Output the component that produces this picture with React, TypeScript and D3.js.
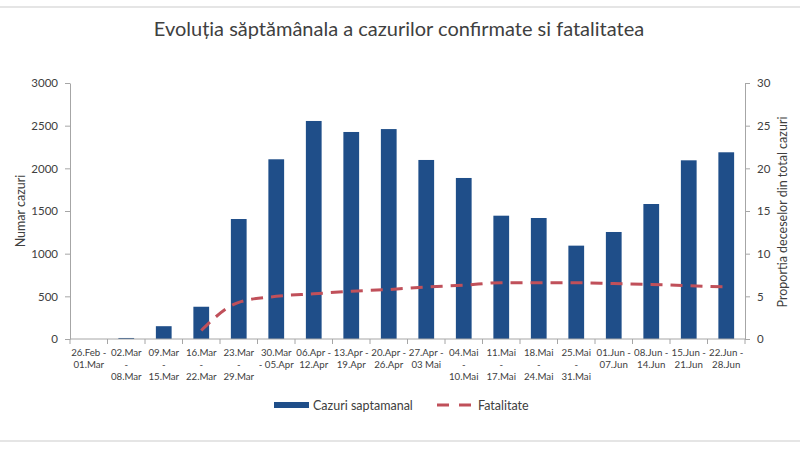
import React, { useEffect, useRef } from 'react';
import * as d3 from 'd3';

const weeks = [
  ['26.Feb -', '01.Mar'],
  ['02.Mar', '-', '08.Mar'],
  ['09.Mar', '-', '15.Mar'],
  ['16.Mar', '-', '22.Mar'],
  ['23.Mar', '-', '29.Mar'],
  ['30.Mar', '- 05.Apr'],
  ['06.Apr -', '12.Apr'],
  ['13.Apr -', '19.Apr'],
  ['20.Apr -', '26.Apr'],
  ['27.Apr -', '03 Mai'],
  ['04.Mai', '-', '10.Mai'],
  ['11.Mai', '-', '17.Mai'],
  ['18.Mai', '-', '24.Mai'],
  ['25.Mai', '-', '31.Mai'],
  ['01.Jun -', '07.Jun'],
  ['08.Jun -', '14.Jun'],
  ['15.Jun -', '21.Jun'],
  ['22.Jun -', '28.Jun'],
];
const categories = weeks.map(w => w.join(' '));

const cazuri = [0, 12, 150, 378, 1406, 2106, 2555, 2426, 2460, 2098, 1887, 1445, 1418, 1094, 1254, 1582, 2094, 2188];
const fatalitate: (number | null)[] = [null, null, null, 1.0, 4.3, 5.0, 5.3, 5.6, 5.8, 6.1, 6.3, 6.6, 6.6, 6.6, 6.5, 6.4, 6.25, 6.1];

const leftTicks = [0, 500, 1000, 1500, 2000, 2500, 3000];
const rightTicks = [0, 5, 10, 15, 20, 25, 30];

const FONT = 'Lato, sans-serif';
const BAR = '#1f4e89';
const LINE = '#c0505a';
const AXIS = '#a6a6a6';
const TEXT = '#404040';

const App: React.FC = () => {
  const svgRef = useRef<SVGSVGElement>(null);

  useEffect(() => {
    const svg = d3.select(svgRef.current);
    svg.selectAll('*').remove();

    const left = 70, right = 745, top = 83, bottom = 339;

    const x = d3.scaleBand()
      .domain(categories)
      .range([left, right])
      .paddingInner(0.58)
      .paddingOuter(0.29);

    const y = d3.scaleLinear().domain([0, 3000]).range([bottom, top]);
    const y2 = d3.scaleLinear().domain([0, 30]).range([bottom, top]);

    // frame lines
    svg.append('line').attr('x1', 0).attr('x2', 800).attr('y1', 7).attr('y2', 7)
      .attr('stroke', '#dcdcdc').attr('stroke-width', 1.5);
    svg.append('line').attr('x1', 0).attr('x2', 800).attr('y1', 441).attr('y2', 441)
      .attr('stroke', '#dcdcdc').attr('stroke-width', 1.5);

    svg.append('text')
      .attr('x', 399).attr('y', 36)
      .attr('text-anchor', 'middle')
      .attr('font-family', FONT).attr('font-size', 20)
      .attr('fill', TEXT)
      .text('Evoluția săptămânala a cazurilor confirmate si fatalitatea');

    // bars
    svg.selectAll('.bar')
      .data(cazuri)
      .enter()
      .append('rect')
      .attr('class', 'bar')
      .attr('x', (_d, i) => x(categories[i]) || 0)
      .attr('y', d => y(d))
      .attr('width', x.bandwidth())
      .attr('height', d => bottom - y(d))
      .attr('fill', BAR);

    // y axes
    const gl = svg.append('g')
      .attr('transform', `translate(${left},0)`)
      .call(d3.axisLeft(y).tickValues(leftTicks).tickFormat(d3.format('d')).tickSize(5).tickSizeOuter(0).tickPadding(7));
    const gr = svg.append('g')
      .attr('transform', `translate(${right},0)`)
      .call(d3.axisRight(y2).tickValues(rightTicks).tickFormat(d3.format('d')).tickSize(5).tickSizeOuter(0).tickPadding(7));
    [gl, gr].forEach(g => {
      g.select('.domain').attr('stroke', AXIS);
      g.selectAll('.tick line').attr('stroke', AXIS);
      g.selectAll('.tick text')
        .attr('font-family', FONT).attr('font-size', 11.5).attr('fill', TEXT);
    });

    // x axis
    const step = x.step();
    svg.append('line')
      .attr('x1', left).attr('x2', right).attr('y1', bottom).attr('y2', bottom)
      .attr('stroke', AXIS);
    svg.selectAll('.xtick')
      .data(d3.range(categories.length + 1))
      .enter()
      .append('line')
      .attr('x1', i => left + i * step).attr('x2', i => left + i * step)
      .attr('y1', bottom).attr('y2', bottom + 5)
      .attr('stroke', AXIS);

    const xl = svg.selectAll('.xlabel')
      .data(weeks)
      .enter()
      .append('text')
      .attr('text-anchor', 'middle')
      .attr('font-family', FONT).attr('font-size', 9.7)
      .attr('fill', TEXT);
    xl.each(function (d, i) {
      const cx = (x(categories[i]) || 0) + x.bandwidth() / 2;
      d3.select(this).selectAll('tspan')
        .data(d)
        .enter()
        .append('tspan')
        .attr('x', cx)
        .attr('y', (_t, j) => 356 + j * 12)
        .text(t => t);
    });

    // fatality line
    const pts = fatalitate
      .map((v, i) => ({ v, i }))
      .filter(p => p.v !== null) as { v: number; i: number }[];
    const line = d3.line<{ v: number; i: number }>()
      .x(p => (x(categories[p.i]) || 0) + x.bandwidth() / 2)
      .y(p => y2(p.v))
      .curve(d3.curveMonotoneX);
    svg.append('path')
      .datum(pts)
      .attr('d', line)
      .attr('fill', 'none')
      .attr('stroke', LINE)
      .attr('stroke-width', 3)
      .attr('stroke-dasharray', '12 8');

    // axis titles
    svg.append('text')
      .attr('transform', 'translate(25,211) rotate(-90)')
      .attr('text-anchor', 'middle')
      .attr('font-family', FONT).attr('font-size', 12.5)
      .attr('fill', TEXT)
      .text('Numar cazuri');
    svg.append('text')
      .attr('transform', 'translate(787,212) rotate(-90)')
      .attr('text-anchor', 'middle')
      .attr('font-family', FONT).attr('font-size', 12.5)
      .attr('fill', TEXT)
      .text('Proportia deceselor din total cazuri');

    // legend
    const ly = 405;
    svg.append('rect').attr('x', 274).attr('y', ly - 3).attr('width', 35).attr('height', 6).attr('fill', BAR);
    svg.append('text').attr('x', 313).attr('y', ly + 4.5)
      .attr('font-family', FONT).attr('font-size', 12.5).attr('fill', TEXT)
      .text('Cazuri saptamanal');
    svg.append('line').attr('x1', 437).attr('x2', 471).attr('y1', ly).attr('y2', ly)
      .attr('stroke', LINE).attr('stroke-width', 3).attr('stroke-dasharray', '12 10');
    svg.append('text').attr('x', 478).attr('y', ly + 4.5)
      .attr('font-family', FONT).attr('font-size', 12.5).attr('fill', TEXT)
      .text('Fatalitate');
  }, []);

  return (
    <svg
      ref={svgRef}
      width={800}
      height={450}
      style={{ position: 'absolute', left: 0, top: 0, background: '#fff' }}
    />
  );
};

export default App;
